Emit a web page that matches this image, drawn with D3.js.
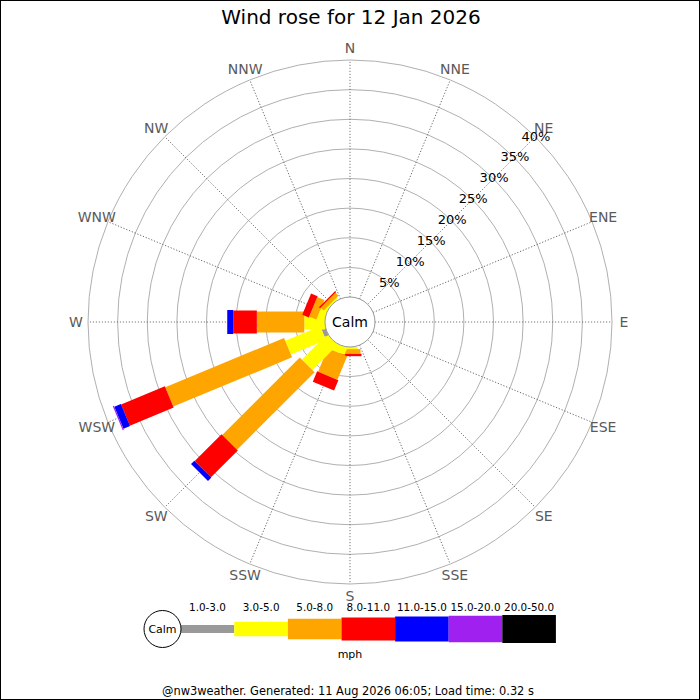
<!DOCTYPE html>
<html>
<head>
<meta charset="utf-8">
<script src="https://cdn.jsdelivr.net/npm/d3@7"></script>
<style>
  html, body { margin: 0; padding: 0; background: #fff; }
  svg { display: block; font-family: "DejaVu Sans", sans-serif; }
</style>
</head>
<body>
<svg id="chart" width="700" height="700"></svg>
<script>
// ---- Data ----
const title = "Wind rose for 12 Jan 2026";
const footer = "@nw3weather. Generated: 11 Aug 2026 06:05; Load time: 0.32 s";
const directions = ["N","NNE","NE","ENE","E","ESE","SE","SSE","S","SSW","SW","WSW","W","WNW","NW","NNW"];
const speedBins = ["1.0-3.0","3.0-5.0","5.0-8.0","8.0-11.0","11.0-15.0","15.0-20.0","20.0-50.0"];
const binColors = ["#999999","#ffff00","#ffa500","#ff0000","#0000ff","#a020f0","#000000"];
// percentage of time per direction, per speed bin (N..NNW)
const bin1to3   = [0,0,0,0,0,0,0,0, 0,   0,   0,    0.7, 0,   0,   0,    0];
const bin3to5   = [0,0,0,0,0,0,0,0, 0.35,1.3, 6.0,  6.4, 3.5, 1.2, 0.3,  0];
const bin5to8   = [0,0,0,0,0,0,0,0, 0.8, 4.3, 18.5, 21.7,8.0, 1.3, 0.7,  0];
const bin8to11  = [0,0,0,0,0,0,0,0, 0.4, 1.9, 6.4,  8.0, 4.0, 1.2, 0.25, 0];
const bin11to15 = [0,0,0,0,0,0,0,0, 0,   0,   0.8,  1.2, 1.0, 0,   0,    0];
const bin15to20 = [0,0,0,0,0,0,0,0, 0,   0,   0,    0.2, 0,   0,   0,    0];
const bin20to50 = [0,0,0,0,0,0,0,0, 0,   0,   0,    0,   0,   0,   0,    0];
const ringTicks = [5,10,15,20,25,30,35,40];
const ringLabels = ["5%","10%","15%","20%","25%","30%","35%","40%"];
const series = [bin1to3, bin3to5, bin5to8, bin8to11, bin11to15, bin15to20, bin20to50];

// ---- Layout ----
const svg = d3.select("#chart");
const cx = 350, cy = 322;
const calmR = 25, outerR = 262;
const barWidths = [8, 15, 21, 23, 24, 26, 28];
const legendHeights = [8, 14.5, 20.5, 23, 25, 26.5, 28];

const r = d3.scaleLinear().domain([0, 40]).range([calmR, outerR]);
const angle = d3.scalePoint().domain(directions).range([0, 360 - 22.5]);

svg.append("rect").attr("x", 0.5).attr("y", 0.5).attr("width", 699).attr("height", 699)
  .attr("fill", "#fff").attr("stroke", "#000").attr("stroke-width", 1);

svg.append("text").attr("x", 351).attr("y", 24).attr("text-anchor", "middle")
  .attr("font-size", 20).attr("fill", "#000").text(title);

const g = svg.append("g").attr("transform", `translate(${cx},${cy})`);

// rings
g.selectAll("circle.ring").data(ringTicks).join("circle")
  .attr("class", "ring").attr("r", d => r(d))
  .attr("fill", "none").attr("stroke", "#b0b0b0").attr("stroke-width", 1);

// spokes
g.selectAll("line.spoke").data(directions).join("line")
  .attr("class", "spoke")
  .attr("transform", d => `rotate(${angle(d)})`)
  .attr("x1", 0).attr("y1", -calmR).attr("x2", 0).attr("y2", -outerR)
  .attr("stroke", "#555").attr("stroke-width", 0.8).attr("stroke-dasharray", "1.2,1.8");

// direction labels
g.selectAll("text.dir").data(directions).join("text")
  .attr("class", "dir")
  .attr("x", d => 274 * Math.sin(angle(d) * Math.PI / 180))
  .attr("y", d => -274 * Math.cos(angle(d) * Math.PI / 180))
  .attr("text-anchor", "middle").attr("dominant-baseline", "central")
  .attr("font-size", 14).attr("fill", "#5a5a5a").text(d => d);

// bars
const stacks = directions.map((dir, i) => {
  let cum = 0;
  return series.map((s, k) => {
    const start = cum; cum += s[i];
    return { dir, k, start, end: cum };
  }).filter(d => d.end > d.start);
});
const dirG = g.selectAll("g.dir").data(stacks).join("g")
  .attr("class", "dir")
  .attr("transform", (d, i) => `rotate(${angle(directions[i])})`);
dirG.selectAll("rect").data(d => d).join("rect")
  .attr("x", d => -barWidths[d.k] / 2)
  .attr("width", d => barWidths[d.k])
  .attr("y", d => -r(d.end))
  .attr("height", d => r(d.end) - r(d.start))
  .attr("fill", d => binColors[d.k]);

// ring labels along NE
g.selectAll("text.ringlab").data(ringTicks).join("text")
  .attr("class", "ringlab")
  .attr("x", d => (r(d) + 1) * Math.SQRT1_2)
  .attr("y", d => -(r(d) + 1) * Math.SQRT1_2)
  .attr("text-anchor", "middle").attr("dominant-baseline", "central")
  .attr("font-size", 13).attr("fill", "#000")
  .text((d, i) => ringLabels[i]);

// calm circle
g.append("circle").attr("r", calmR).attr("fill", "#fff").attr("stroke", "#999").attr("stroke-width", 1);
g.append("text").attr("text-anchor", "middle").attr("dominant-baseline", "central")
  .attr("font-size", 14).attr("fill", "#000").text("Calm");

// legend
const lx0 = 180.7, segW = 53.6, ly = 629;
const legend = svg.append("g");
legend.selectAll("rect").data(speedBins).join("rect")
  .attr("x", (d, i) => lx0 + i * segW).attr("width", segW)
  .attr("y", (d, i) => ly - legendHeights[i] / 2).attr("height", (d, i) => legendHeights[i])
  .attr("fill", (d, i) => binColors[i]);
legend.selectAll("text.lab").data(speedBins).join("text")
  .attr("class", "lab")
  .attr("x", (d, i) => lx0 + i * segW + segW / 2).attr("y", 611)
  .attr("text-anchor", "middle").attr("font-size", 10.4).attr("fill", "#000").text(d => d);
legend.append("circle").attr("cx", 162.5).attr("cy", ly).attr("r", 18.5)
  .attr("fill", "#fff").attr("stroke", "#000").attr("stroke-width", 1);
legend.append("text").attr("x", 162.5).attr("y", ly).attr("text-anchor", "middle")
  .attr("dominant-baseline", "central").attr("font-size", 11).text("Calm");
legend.append("text").attr("x", 350).attr("y", 658).attr("text-anchor", "middle")
  .attr("font-size", 11).text("mph");

svg.append("text").attr("x", 348).attr("y", 695).attr("text-anchor", "middle")
  .attr("font-size", 11.4).attr("fill", "#000").text(footer);
</script>
</body>
</html>
